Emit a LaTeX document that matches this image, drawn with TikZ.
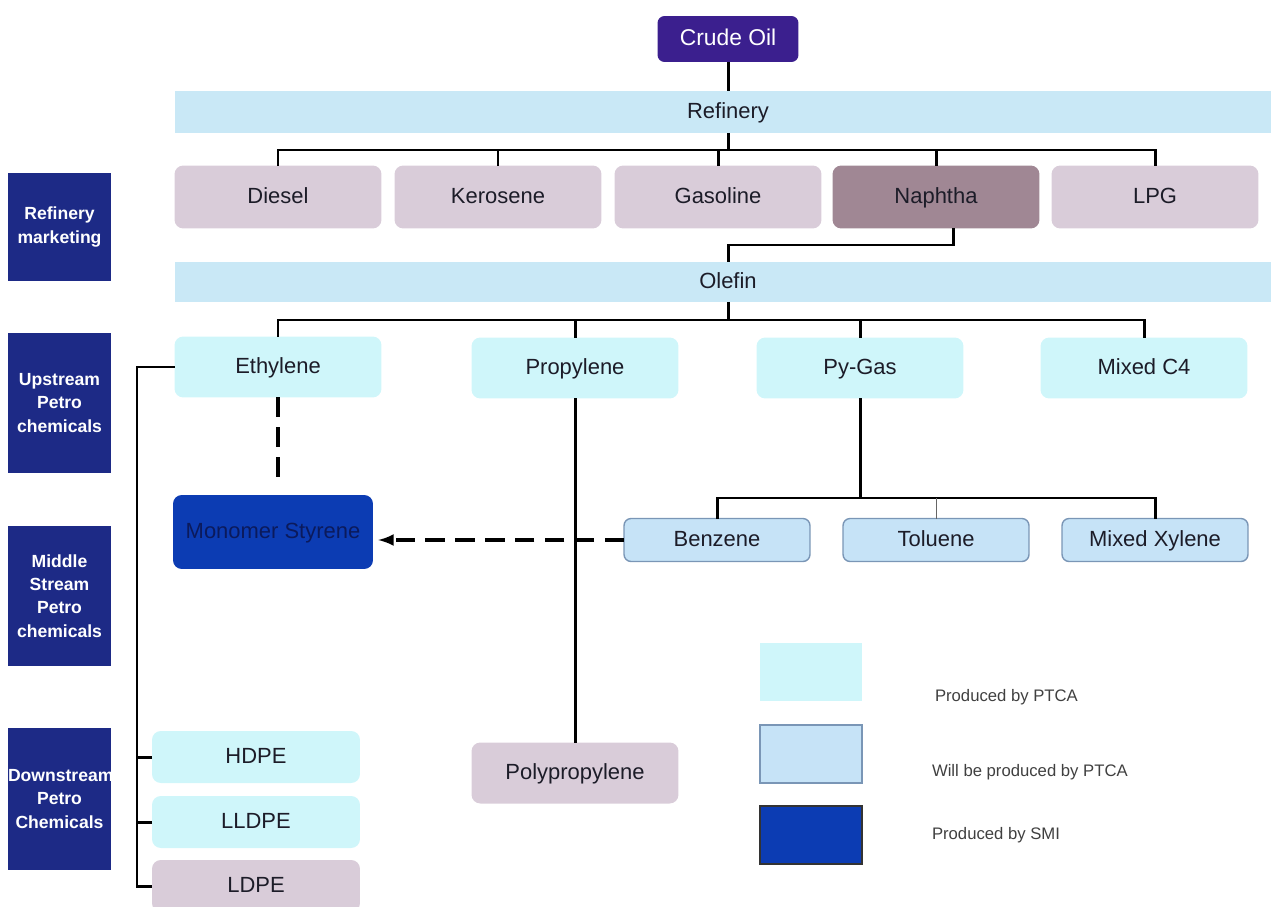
\documentclass[tikz,border=0pt]{standalone}
\usepackage{fontspec}
\setmainfont{Liberation Sans}
\usetikzlibrary{positioning}
\usetikzlibrary{calc}

\definecolor{catnavy}{HTML}{1D2A86}
\definecolor{crudeviolet}{HTML}{3B1F8E}
\definecolor{barblue}{HTML}{C9E8F6}
\definecolor{mauve}{HTML}{D9CCD9}
\definecolor{naphmauve}{HTML}{A08794}
\definecolor{ptcacyan}{HTML}{CFF6FA}
\definecolor{planfill}{HTML}{C6E3F7}
\definecolor{planline}{HTML}{7A96B6}
\definecolor{smiblue}{HTML}{0C3CB3}
\definecolor{smitext}{HTML}{0B1A5C}
\definecolor{inkgrey}{HTML}{1C1C28}

\begin{document}
\begin{tikzpicture}[x=0.02cm,y=-0.02cm,
  every node/.style={inner sep=0pt,outer sep=0pt,text=inkgrey,font=\fontsize{12.5}{15}\selectfont},
  oneline/.style={text height=1.75ex,text depth=0.45ex},
  catbox/.style={fill=catnavy,minimum width=2.06cm,text width=2.06cm,align=center,text=white,font=\fontsize{10}{13.3}\selectfont\bfseries},
  crudebox/.style={oneline,fill=crudeviolet,rounded corners=4pt,minimum width=2.82cm,minimum height=0.92cm,text=white,font=\fontsize{13}{15}\selectfont},
  bar/.style={oneline,fill=barblue,minimum width=22.12cm,minimum height=0.84cm},
  fuelbox/.style={oneline,fill=mauve,rounded corners=5pt,minimum width=4.14cm,minimum height=1.26cm},
  ptcabox/.style={oneline,fill=ptcacyan,rounded corners=5pt,minimum width=4.14cm,minimum height=1.22cm},
  planbox/.style={oneline,fill=planfill,draw=planline,line width=0.8pt,rounded corners=4pt,minimum width=3.72cm,minimum height=0.86cm},
  polybox/.style={oneline,minimum width=4.16cm,minimum height=1.04cm,rounded corners=5pt},
  legtext/.style={anchor=west,font=\fontsize{9.5}{11}\selectfont,text=black!75},
  link/.style={draw=black,line width=1.7pt},
  dashlink/.style={draw=black,line width=2pt,dash pattern=on 11pt off 6pt}]

\useasboundingbox (0,0) rectangle (1271,906);

% stage labels
\node[catbox,minimum height=2.18cm](refmkt) at (59.5,227){Refinery\\marketing};
\node[catbox,minimum height=2.82cm](upstream) at (59.5,403){Upstream\\Petro\\chemicals};
\node[catbox,minimum height=2.80cm](midstream) at (59.5,596){Middle\\Stream\\Petro\\chemicals};
\node[catbox,minimum height=2.84cm](downstream) at (59.5,799){Downstream\\Petro\\Chemicals};

% refinery level
\node[crudebox](crude) at (728,39){Crude Oil};
\node[bar](refinery) at (728,112){Refinery};
\node[fuelbox](diesel) at (278,197){Diesel};
\node[fuelbox](kerosene) at (498,197){Kerosene};
\node[fuelbox](gasoline) at (718,197){Gasoline};
\node[fuelbox,fill=naphmauve](naphtha) at (936,197){Naphtha};
\node[fuelbox](lpg) at (1155,197){LPG};
\node[bar,minimum height=0.8cm](olefin) at (728,282){Olefin};

% petrochemicals
\node[ptcabox](ethylene) at (278,367){Ethylene};
\node[ptcabox](propylene) at (575,368){Propylene};
\node[ptcabox](pygas) at (860,368){Py-Gas};
\node[ptcabox](mixedc4) at (1144,368){Mixed C4};
\node[oneline,fill=smiblue,rounded corners=5pt,minimum width=4cm,minimum height=1.48cm,text=smitext](styrene) at (273,532){Monomer Styrene};
\node[planbox](benzene) at (717,540){Benzene};
\node[planbox](toluene) at (936,540){Toluene};
\node[planbox](xylene) at (1155,540){Mixed Xylene};
\node[fuelbox,minimum height=1.22cm](polyprop) at (575,773){Polypropylene};
\node[polybox,fill=ptcacyan](hdpe) at (256,757){HDPE};
\node[polybox,fill=ptcacyan](lldpe) at (256,822){LLDPE};
\node[polybox,fill=mauve](ldpe) at (256,886){LDPE};

% legend
\node[fill=ptcacyan,minimum width=2.04cm,minimum height=1.16cm](legptca) at (811,672){};
\node[fill=planfill,draw=planline,line width=0.8pt,minimum width=2.04cm,minimum height=1.16cm](legplan) at (811,754){};
\node[fill=smiblue,draw=black!80,line width=0.8pt,minimum width=2.04cm,minimum height=1.16cm](legsmi) at (811,835){};
\node[legtext](txtptca) at (935,697){Produced by PTCA};
\node[legtext](txtplan) at (932,772){Will be produced by PTCA};
\node[legtext](txtsmi) at (932,835){Produced by SMI};

% junctions
\coordinate (rbus) at (728,150);
\coordinate (ntop) at (728,245);
\coordinate (obus) at (728,320);
\coordinate (pbus) at (860,498);
\coordinate (ethend) at (278,487);
\coordinate (ebend) at (137,367);

\draw[link] (crude) -- (refinery);
\draw[link] (refinery) -- (rbus);
\draw[link] (diesel.north) |- (rbus) -| (lpg.north);
\foreach \n in {kerosene,gasoline,naphtha}
  \draw[link] (\n.north) -- (\n.north |- rbus);
\draw[link] ([xshift=0.34cm]naphtha.south) |- (ntop) -- (olefin);
\draw[link] (olefin) -- (obus);
\draw[link] (ethylene.north) |- (obus) -| (mixedc4.north);
\foreach \n in {propylene,pygas}
  \draw[link] (\n.north) -- (\n.north |- obus);
\draw[dashlink] (ethylene) -- (ethend);
\draw[link] (propylene) -- (polyprop);
\draw[link] (pygas) -- (pbus);
\draw[link] (benzene.north) |- (pbus) -| (xylene.north);
\draw[black!60,line width=0.5pt] (toluene.north) -- (toluene.north |- pbus);
\draw[dashlink,-latex,shorten >=3pt] (benzene.west) -- (styrene.east |- benzene.west);
\draw[link] (ethylene.west) -- (ebend) |- (ldpe.west);
\foreach \n in {hdpe,lldpe}
  \draw[link] (\n.west) -- (\n.west -| ebend);
\end{tikzpicture}
\end{document}
